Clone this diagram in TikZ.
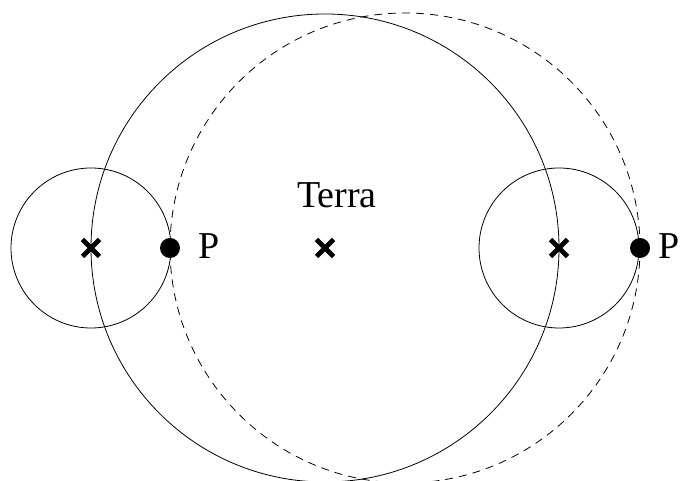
\documentclass[tikz,border=0pt]{standalone}
\usepackage{fontspec}
\setmainfont{Liberation Serif}
\usetikzlibrary{calc}
\begin{document}
\begin{tikzpicture}[x=1pt,y=1pt,
  orbit/.style={line width=0.8pt},
  dashorbit/.style={line width=0.8pt,dash pattern=on 8pt off 6pt},
  crossmark/.style={line width=4.8pt},
  planet/.style={circle,fill=black,minimum size=20pt,inner sep=0pt},
  lbl/.style={inner sep=0pt,font=\fontsize{38}{42}\selectfont}]
\useasboundingbox (0,0) rectangle (682,481);
\coordinate (E) at (325,233);
\coordinate (C1) at (91,233);
\coordinate (C2) at (559,233);
\coordinate (D) at (405,233);
% deferent and shifted circle
\draw[orbit] (E) circle (234);
\draw[dashorbit] (D) circle (235);
% epicycles
\draw[orbit] (C1) circle (80);
\draw[orbit] (C2) circle (80);
% crosses
\foreach \c in {E,C1,C2}{
  \draw[crossmark] ($(\c)+(-8.5,-8.5)$) -- ($(\c)+(8.5,8.5)$);
  \draw[crossmark] ($(\c)+(-8.5,8.5)$) -- ($(\c)+(8.5,-8.5)$);
}
% planets
\node[planet] (P1) at (170,233) {};
\node[planet] (P2) at (640,233) {};
\node[lbl,anchor=base west] (L1) at (198,222) {P};
\node[lbl,anchor=base west] (L2) at (658,222) {P};
\node[lbl,anchor=base] (T) at (337,273) {Terra};
\end{tikzpicture}
\end{document}
